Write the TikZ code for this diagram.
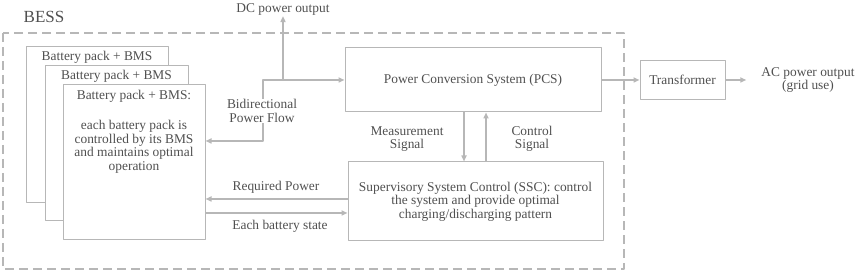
\documentclass[tikz,border=0pt]{standalone}
\usepackage{fontspec}
\setmainfont{Liberation Serif}
\usepackage{xcolor}
\usetikzlibrary{arrows.meta,calc}

\definecolor{linegray}{HTML}{B7B7B7}
\definecolor{textgray}{HTML}{505050}

\begin{document}
\begin{tikzpicture}[x=1pt,y=1pt,>={Triangle[length=6pt,width=5pt]},line join=round,
    every node/.style={text=textgray,font=\fontsize{13.4}{13.5}\selectfont},
    blockbox/.style={draw=linegray,line width=1pt,fill=white,inner sep=0pt},
    flow/.style={draw=linegray,line width=1.5pt},
    tag/.style={align=center,inner sep=1pt}]
  \useasboundingbox (0,0) rectangle (864,272);
  % BESS frame
  \draw[linegray,line width=1.2pt,dash pattern=on 9pt off 5pt] (3,239) rectangle (624,3);
  \node[font=\fontsize{17}{17}\selectfont] (bess) at (44,255) {BESS};
  % battery packs
  \node[blockbox,minimum width=142pt,minimum height=156pt] (pack1) at (97,147) {};
  \node[tag] (pack1txt) at (97,215) {Battery pack + BMS};
  \node[blockbox,minimum width=143pt,minimum height=155pt] (pack2) at (116.5,128.5) {};
  \node[tag] (pack2txt) at (116.5,196) {Battery pack + BMS};
  \node[blockbox,minimum width=142pt,minimum height=155pt] (pack3) at (134,109.5) {};
  \node[tag,anchor=north] (pack3txt) at (134,183) {Battery pack + BMS:\\[17pt]
    each battery pack is\\controlled by its BMS\\and maintains optimal\\operation};
  % main blocks
  \node[blockbox,minimum width=256pt,minimum height=64pt] (pcs) at (473,192) {Power Conversion System (PCS)};
  \node[blockbox,minimum width=255pt,minimum height=79pt,align=center] (ssc) at (475.5,70.5)
    {Supervisory System Control (SSC): control\\the system and provide optimal\\charging/discharging pattern};
  \node[blockbox,minimum width=85pt,minimum height=39pt] (trafo) at (682.5,192) {Transformer};
  \node[tag] (acout) at (808,192) {AC power output\\(grid use)};
  \node[tag] (dcout) at (283,263) {DC power output};
  % bidirectional power flow
  \coordinate (flowlow) at (263,131);
  \coordinate (flowup) at (263,192);
  \draw[flow,<->] (flowlow -| pack3.east) -- (flowlow) -- (flowup) -- (pcs.west);
  \draw[flow,->] (dcout |- pcs.west) -- (dcout.south);
  \node[tag,fill=white] (flowtxt) at (262,161) {Bidirectional\\Power Flow};
  % output side
  \draw[flow,->] (pcs.east) -- (trafo.west);
  \draw[flow,->,shorten >=14pt] (trafo.east) -- (acout.west |- trafo.east);
  % signals between PCS and SSC
  \draw[flow,->] ([xshift=-9pt]pcs.south) -- ([xshift=-9pt]pcs.south |- ssc.north);
  \draw[flow,->] ([xshift=13pt]pcs.south |- ssc.north) -- ([xshift=13pt]pcs.south);
  \node[tag] (meastxt) at (407,133) {Measurement\\Signal};
  \node[tag] (ctrltxt) at (532,133) {Control\\Signal};
  % SSC and battery packs
  \draw[flow,->] ([yshift=2.5pt]ssc.west) -- ([yshift=2.5pt]ssc.west -| pack3.east);
  \draw[flow,->] ([yshift=-11.5pt]ssc.west -| pack3.east) -- ([yshift=-11.5pt]ssc.west);
  \node[tag] (reqtxt) at (276,85) {Required Power};
  \node[tag] (statetxt) at (280,46) {Each battery state};
\end{tikzpicture}
\end{document}
